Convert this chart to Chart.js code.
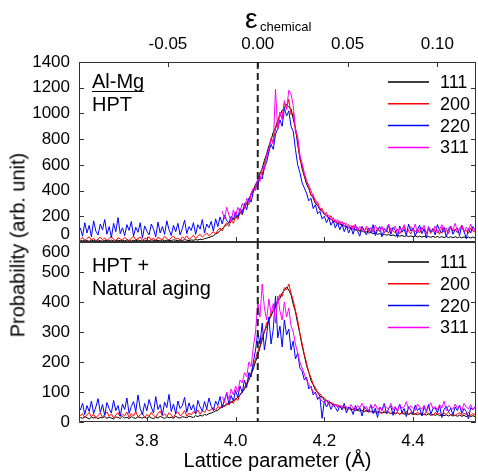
<!DOCTYPE html>
<html>
<head>
<meta charset="utf-8">
<script src="https://cdn.jsdelivr.net/npm/chart.js@4.4.0/dist/chart.umd.min.js"></script>
<style>
  body { margin: 0; background: #fff; }
  #wrap { position: relative; width: 478px; height: 473px; overflow: hidden; background: #fff; }
  #wrap canvas { position: absolute; left: 0; }
  #hpt { top: 0; }
  #aged { top: 236px; }
  #ytitle {
    position: absolute; left: 18px; top: 245px;
    transform: translate(-50%, -50%) rotate(-90deg);
    font: 20px "Liberation Sans", Arial, sans-serif; white-space: nowrap; color: #000;
  }
</style>
</head>
<body>
<div id="wrap">
  <canvas id="hpt" width="478" height="250"></canvas>
  <canvas id="aged" width="478" height="237"></canvas>
  <div id="ytitle">Probability (arb. unit)</div>
</div>
<script>
// Sampling grid of the lattice parameter (Å)
const aStart = 3.65;
const aStep = 0.005;
const magentaFirst = 64; // the 311 curves start at 3.97 Å

const latticeMin = 3.647;
const latticeMax = 4.542;
const refLattice = 4.05; // epsilon = 0

const latticeTicks = [3.8, 4.0, 4.2, 4.4];
const strainTicks = [-0.05, 0.00, 0.05, 0.10];
const hptYTicks = [0, 200, 400, 600, 800, 1000, 1200, 1400];
const agedYTicks = [0, 100, 200, 300, 400, 500, 600];

const reflections = ['111', '200', '220', '311'];
const lineColors = ['#000000', '#ff0000', '#0000ff', '#ff00ff'];

// ---- HPT panel ----
const hptBlack = [
  12, 8, 15, 10, 6, 14, 11, 9, 16, 10,
  7, 13, 12, 9, 15, 8, 11, 14, 10, 12,
  9, 16, 11, 8, 13, 10, 15, 12, 7, 14,
  11, 9, 16, 13, 10, 12, 8, 15, 11, 14,
  12, 10, 17, 13, 9, 15, 12, 18, 14, 11,
  16, 13, 19, 15, 22, 18, 26, 30, 35, 42,
  48, 62, 70, 90, 102, 120, 132, 152, 160, 180,
  188, 208, 220, 248, 260, 302, 332, 375, 405, 448,
  478, 532, 570, 636, 684, 748, 790, 856, 890, 946,
  980, 1026, 1042, 1070, 1052, 1036, 958, 888, 758, 656,
  570, 510, 450, 415, 368, 342, 300, 284, 250, 240,
  214, 206, 184, 180, 161, 158, 142, 141, 127, 127,
  114, 115, 102, 104, 92, 95, 84, 87, 76, 80,
  70, 74, 65, 69, 60, 65, 56, 61, 53, 58,
  50, 55, 47, 53, 45, 51, 43, 49, 42, 48,
  40, 47, 39, 46, 38, 45, 37, 44, 36, 44,
  36, 43, 35, 42, 34, 42, 34, 41, 33, 41,
  33, 40, 32, 40, 32, 39, 31, 39, 31
];
const hptRed = [
  22, 35, 10, 28, 40, 15, 30, 8, 25, 38,
  18, 32, 12, 27, 42, 20, 9, 34, 24, 14,
  36, 21, 11, 30, 44, 17, 26, 39, 13, 29,
  23, 41, 16, 31, 10, 37, 25, 19, 43, 28,
  15, 34, 46, 22, 30, 12, 40, 27, 48, 20,
  35, 52, 28, 44, 60, 38, 55, 70, 48, 66,
  80, 62, 92, 110, 86, 128, 150, 122, 170, 145,
  198, 175, 232, 210, 268, 305, 290, 360, 395, 430,
  470, 540, 520, 610, 665, 720, 810, 780, 880, 930,
  1005, 960, 1080, 1040, 1110, 990, 1005, 860, 800, 640,
  600, 520, 470, 430, 360, 370, 300, 310, 250, 262,
  215, 230, 180, 205, 160, 175, 140, 162, 128, 150,
  118, 135, 100, 128, 92, 115, 84, 120, 90, 106,
  78, 112, 88, 70, 105, 82, 118, 75, 96, 68,
  110, 85, 72, 100, 64, 95, 120, 78, 88, 62,
  104, 80, 92, 70, 115, 86, 74, 98, 66, 108,
  82, 94, 60, 112, 76, 90, 70, 118, 84, 100,
  72, 96, 125, 80, 92, 68, 110, 86, 78
];
const hptBlue = [
  110, 45, 150, 70, 130, 40, 165, 85, 55, 140,
  95, 175, 60, 120, 35, 145, 80, 190, 65, 110,
  50, 135, 90, 160, 45, 115, 75, 150, 30, 125,
  85, 55, 140, 100, 40, 155, 70, 120, 60, 165,
  95, 50, 130, 80, 145, 55, 105, 170, 65, 120,
  90, 150, 60, 135, 100, 175, 70, 140, 110, 160,
  85, 180, 120, 195, 140, 210, 165, 150, 200, 175,
  230, 190, 260, 220, 300, 250, 340, 310, 390, 420,
  440, 510, 490, 580, 620, 700, 760, 720, 840, 880,
  950, 900, 1040, 980, 1020, 900, 860, 720, 600, 540,
  460, 420, 380, 320, 340, 260, 290, 220, 240, 180,
  200, 150, 190, 130, 165, 110, 150, 95, 140, 80,
  125, 70, 115, 60, 130, 85, 45, 120, 90, 55,
  110, 70, 135, 50, 95, 120, 40, 105, 80, 130,
  60, 115, 90, 35, 125, 75, 100, 50, 140, 85,
  110, 45, 95, 130, 65, 105, 30, 120, 80, 100,
  55, 135, 90, 70, 115, 40, 100, 125, 60, 95,
  110, 50, 130, 85, 25, 105, 70, 120, 90
];
const hptMagenta = [
  240, 180, 270, 210, 160, 250,
  200, 270, 230, 300, 260, 340, 310, 380, 420, 400,
  500, 470, 580, 560, 680, 720, 800, 760, 1190, 870,
  1010, 950, 1100, 1030, 1180, 1150, 1060, 880, 820, 680,
  610, 540, 480, 440, 400, 350, 330, 290, 270, 240,
  230, 200, 210, 170, 190, 150, 175, 135, 160, 120,
  145, 105, 130, 95, 140, 88, 120, 100, 80, 125,
  90, 110, 75, 130, 95, 85, 120, 70, 105, 140,
  80, 100, 125, 65, 110, 90, 135, 75, 95, 120,
  85, 140, 70, 105, 90, 130, 60, 115, 95, 80,
  125, 70, 100, 135, 85, 110, 65, 120, 95, 145,
  80, 105, 130, 75, 115, 90, 140, 85, 100
];

// ---- HPT + natural aging panel ----
const agedBlack = [
  15, 12, 18, 14, 10, 16, 13, 17, 11, 15,
  14, 18, 12, 16, 13, 10, 17, 15, 12, 19,
  13, 16, 11, 18, 14, 12, 17, 15, 13, 16,
  12, 18, 14, 11, 16, 13, 19, 15, 12, 17,
  14, 16, 12, 19, 15, 13, 18, 16, 14, 20,
  17, 15, 21, 18, 22, 20, 25, 23, 28, 30,
  33, 37, 39, 46, 49, 55, 57, 63, 65, 71,
  74, 83, 89, 100, 109, 125, 139, 159, 177, 201,
  221, 249, 274, 302, 318, 340, 353, 372, 383, 402,
  412, 430, 438, 450, 440, 424, 393, 367, 328, 294,
  253, 222, 188, 166, 138, 124, 106, 99, 86, 83,
  73, 72, 64, 64, 56, 57, 51, 52, 46, 48,
  43, 46, 40, 43, 38, 41, 36, 39, 34, 38,
  33, 36, 32, 35, 31, 34, 30, 33, 29, 32,
  28, 32, 27, 31, 26, 30, 26, 29, 25, 29,
  25, 28, 24, 28, 23, 27, 23, 27, 22, 26,
  22, 26, 21, 25, 21, 24, 20, 24, 20, 23,
  19, 23, 19, 22, 18, 22, 18, 21, 18
];
const agedRed = [
  20, 28, 14, 24, 32, 17, 26, 12, 22, 30,
  16, 25, 34, 19, 27, 13, 23, 31, 18, 26,
  21, 33, 15, 28, 20, 35, 17, 24, 30, 14,
  25, 19, 32, 22, 16, 29, 36, 20, 27, 18,
  31, 23, 15, 28, 34, 21, 26, 38, 19, 30,
  24, 35, 28, 40, 26, 38, 32, 44, 36, 42,
  48, 38, 52, 46, 58, 50, 64, 56, 70, 62,
  80, 72, 92, 100, 116, 128, 150, 165, 190, 210,
  235, 255, 285, 300, 330, 340, 365, 372, 395, 402,
  425, 418, 448, 440, 460, 430, 405, 372, 340, 295,
  262, 225, 198, 165, 148, 125, 115, 98, 95, 84,
  80, 72, 70, 64, 62, 56, 58, 50, 54, 47,
  50, 44, 48, 40, 46, 38, 44, 36, 42, 35,
  40, 33, 38, 30, 36, 32, 28, 37, 30, 34,
  27, 35, 29, 32, 25, 33, 28, 36, 26, 31,
  29, 24, 33, 27, 30, 23, 34, 26, 28, 22,
  32, 25, 29, 21, 30, 26, 33, 24, 28, 20,
  27, 31, 22, 29, 25, 32, 21, 28, 24
];
const agedBlue = [
  40, 62, 25, 55, 35, 70, 28, 50, 78, 32,
  58, 22, 65, 45, 30, 72, 38, 55, 20, 60,
  42, 80, 28, 52, 68, 35, 90, 45, 25, 62,
  38, 75, 50, 30, 85, 42, 58, 24, 66, 48,
  92, 35, 60, 28, 70, 45, 55, 82, 32, 64,
  40, 58, 26, 72, 50, 36, 68, 44, 80, 52,
  38, 70, 55, 85, 48, 75, 95, 60, 88, 70,
  105, 82, 120, 98, 140, 115, 165, 150, 200, 240,
  300, 260, 330, 240, 290, 350, 260, 310, 420, 280,
  320, 250, 340, 290, 310, 240, 270, 210, 230, 180,
  170, 140, 150, 110, 120, 90, 100, 75, 85, 12,
  70, 50, 65, 42, 58, 48, 35, 55, 40, 62,
  30, 50, 45, 25, 55, 38, 48, 20, 52, 42,
  35, 58, 28, 46, 15, 50, 40, 62, 30, 44,
  54, 22, 48, 36, 60, 32, 45, 18, 52, 40,
  28, 56, 38, 47, 20, 50, 35, 58, 26, 44,
  48, 30, 55, 15, 42, 52, 34, 46, 24, 50,
  38, 56, 28, 45, 35, 10, 48, 40, 52
];
const agedMagenta = [
  85, 65, 100, 75, 110, 90,
  120, 100, 140, 130, 165, 150, 200, 185, 250, 300,
  400, 350, 460, 380, 340, 410, 360, 395, 330, 420,
  370, 340, 400, 350, 380, 320, 300, 260, 230, 200,
  180, 160, 140, 125, 115, 100, 95, 82, 78, 70,
  65, 72, 58, 62, 52, 60, 48, 56, 45, 54,
  50, 42, 58, 46, 40, 55, 48, 62, 44, 52,
  38, 56, 46, 60, 42, 50, 36, 58, 48, 44,
  62, 40, 52, 35, 58, 46, 50, 68, 42, 54,
  45, 38, 60, 50, 42, 56, 35, 48, 64, 44,
  52, 40, 58, 46, 70, 38, 55, 48, 42, 60,
  46, 54, 38, 62, 50, 44, 58, 40, 52
];

const fontFamily = '"Liberation Sans", Arial, Helvetica, sans-serif';

function toPoints(values, firstIndex) {
  return values.map((v, k) => ({
    x: Math.round((aStart + (firstIndex + k) * aStep) * 1000) / 1000,
    y: v
  }));
}

function buildDatasets(black, red, blue, magenta) {
  const seriesList = [toPoints(black, 0), toPoints(red, 0), toPoints(blue, 0), toPoints(magenta, magentaFirst)];
  return seriesList.map((data, i) => ({
    label: reflections[i],
    data: data,
    borderColor: lineColors[i],
    backgroundColor: lineColors[i],
    borderWidth: 1,
    pointRadius: 0,
    tension: 0,
    fill: false,
    order: 3 - i
  }));
}

// Frame, inward ticks, dashed reference line, legend and panel texts
const panelDecor = {
  id: 'panelDecor',
  afterDraw(chart, args, opts) {
    const { ctx, chartArea, scales } = chart;
    const xs = scales.x, ys = scales.y;
    const left = chartArea.left, right = chartArea.right;
    const top = chartArea.top, bottom = chartArea.bottom;
    ctx.save();

    // frame
    ctx.beginPath();
    ctx.strokeStyle = '#333333';
    ctx.lineWidth = 1;
    ctx.moveTo(left + 0.5, top + 0.5);
    ctx.lineTo(right - 0.5, top + 0.5);
    ctx.lineTo(right - 0.5, bottom - 0.5);
    ctx.lineTo(left + 0.5, bottom - 0.5);
    ctx.closePath();
    ctx.stroke();

    // inward ticks
    ctx.beginPath();
    opts.yTicks.forEach(v => {
      const py = Math.round(ys.getPixelForValue(v)) + 0.5;
      ctx.moveTo(left, py); ctx.lineTo(left + 5, py);
      ctx.moveTo(right, py); ctx.lineTo(right - 5, py);
    });
    latticeTicks.forEach(v => {
      const px = Math.round(xs.getPixelForValue(v)) + 0.5;
      ctx.moveTo(px, bottom); ctx.lineTo(px, bottom - 5);
    });
    if (scales.x2) {
      strainTicks.forEach(v => {
        const px = Math.round(scales.x2.getPixelForValue(v)) + 0.5;
        ctx.moveTo(px, top); ctx.lineTo(px, top + 5);
      });
    }
    ctx.stroke();

    // dashed line at epsilon = 0
    const rx = xs.getPixelForValue(refLattice);
    ctx.beginPath();
    ctx.setLineDash([7, 4]);
    ctx.lineWidth = 2;
    ctx.strokeStyle = '#222';
    ctx.moveTo(rx, top);
    ctx.lineTo(rx, bottom);
    ctx.stroke();
    ctx.setLineDash([]);

    // shifted y label
    ctx.fillStyle = '#000';
    ctx.font = '17px ' + fontFamily;
    ctx.textAlign = 'right';
    ctx.textBaseline = 'middle';
    ctx.fillText(String(opts.shifted.value), left - 9, ys.getPixelForValue(opts.shifted.value) + opts.shifted.dy);

    // legend
    ctx.font = '18px ' + fontFamily;
    ctx.textAlign = 'left';
    reflections.forEach((name, i) => {
      const ly = opts.legendTop + i * 21.8;
      ctx.beginPath();
      ctx.strokeStyle = lineColors[i];
      ctx.lineWidth = 1.5;
      ctx.moveTo(388, ly);
      ctx.lineTo(429, ly);
      ctx.stroke();
      ctx.fillText(name, 440, ly + 1);
    });

    // panel label
    ctx.font = '20px ' + fontFamily;
    opts.label.forEach((line, i) => {
      const ty = opts.labelTop + i * 23;
      ctx.fillText(line, 92, ty);
      if (i === 0 && opts.underline) {
        const w = ctx.measureText(line).width;
        ctx.beginPath();
        ctx.strokeStyle = '#000';
        ctx.lineWidth = 1;
        ctx.moveTo(92, ty + 9.5);
        ctx.lineTo(92 + w, ty + 9.5);
        ctx.stroke();
      }
    });

    // epsilon axis title
    if (scales.x2) {
      ctx.textBaseline = 'alphabetic';
      ctx.font = '28px ' + fontFamily;
      ctx.fillText('\u03b5', 245, 28);
      ctx.font = '13px ' + fontFamily;
      ctx.fillText('chemical', 260, 31);
    }
    ctx.restore();
  }
};

function noPadding(s) {
  s.paddingTop = 0;
  s.paddingBottom = 0;
  s.paddingLeft = 0;
  s.paddingRight = 0;
}

function yAxis(ticks, max, hidden) {
  return {
    type: 'linear',
    min: 0,
    max: max,
    afterFit: s => { s.width = 79; noPadding(s); },
    afterBuildTicks: s => { s.ticks = ticks.map(v => ({ value: v })); },
    grid: { display: false, drawTicks: false },
    border: { display: false },
    ticks: {
      autoSkip: false,
      padding: 9,
      color: '#000',
      font: { family: fontFamily, size: 17 },
      callback: v => (v === hidden ? '' : String(v))
    }
  };
}

Chart.defaults.font.family = fontFamily;

new Chart(document.getElementById('hpt'), {
  type: 'line',
  data: { datasets: buildDatasets(hptBlack, hptRed, hptBlue, hptMagenta) },
  options: {
    responsive: false,
    animation: false,
    layout: { padding: { left: 0, right: 2, top: 0, bottom: 8 } },
    plugins: {
      legend: { display: false },
      tooltip: { enabled: false },
      panelDecor: {
        yTicks: hptYTicks,
        shifted: { value: 0, dy: -8 },
        legendTop: 82,
        label: ['Al-Mg', 'HPT'],
        labelTop: 82,
        underline: true
      }
    },
    scales: {
      x: { type: 'linear', min: latticeMin, max: latticeMax, display: false },
      x2: {
        type: 'linear',
        position: 'top',
        min: (latticeMin - refLattice) / refLattice,
        max: (latticeMax - refLattice) / refLattice,
        afterFit: s => { s.height = 62; noPadding(s); },
        afterBuildTicks: s => { s.ticks = strainTicks.map(v => ({ value: v })); },
        grid: { display: false, drawTicks: false },
        border: { display: false },
        ticks: {
          padding: 7,
          color: '#000',
          font: { family: fontFamily, size: 17 },
          maxRotation: 0,
          callback: v => v.toFixed(2)
        }
      },
      y: yAxis(hptYTicks, 1400, 0)
    }
  },
  plugins: [panelDecor]
});

new Chart(document.getElementById('aged'), {
  type: 'line',
  data: { datasets: buildDatasets(agedBlack, agedRed, agedBlue, agedMagenta) },
  options: {
    responsive: false,
    animation: false,
    layout: { padding: { left: 0, right: 2, top: 6, bottom: 0 } },
    plugins: {
      legend: { display: false },
      tooltip: { enabled: false },
      panelDecor: {
        yTicks: agedYTicks,
        shifted: { value: 600, dy: 10 },
        legendTop: 26,
        label: ['HPT +', 'Natural aging'],
        labelTop: 30,
        underline: false
      }
    },
    scales: {
      x: {
        type: 'linear',
        min: latticeMin,
        max: latticeMax,
        afterFit: s => { s.height = 51; noPadding(s); },
        afterBuildTicks: s => { s.ticks = latticeTicks.map(v => ({ value: v })); },
        grid: { display: false, drawTicks: false },
        border: { display: false },
        ticks: {
          padding: 9,
          color: '#000',
          maxRotation: 0,
          font: { family: fontFamily, size: 17 },
          callback: v => v.toFixed(1)
        },
        title: {
          display: true,
          text: 'Lattice parameter (\u00c5)',
          color: '#000',
          font: { family: fontFamily, size: 20 },
          padding: { top: 0, bottom: 0 }
        }
      },
      y: yAxis(agedYTicks, 600, 600)
    }
  },
  plugins: [panelDecor]
});
</script>
</body>
</html>
